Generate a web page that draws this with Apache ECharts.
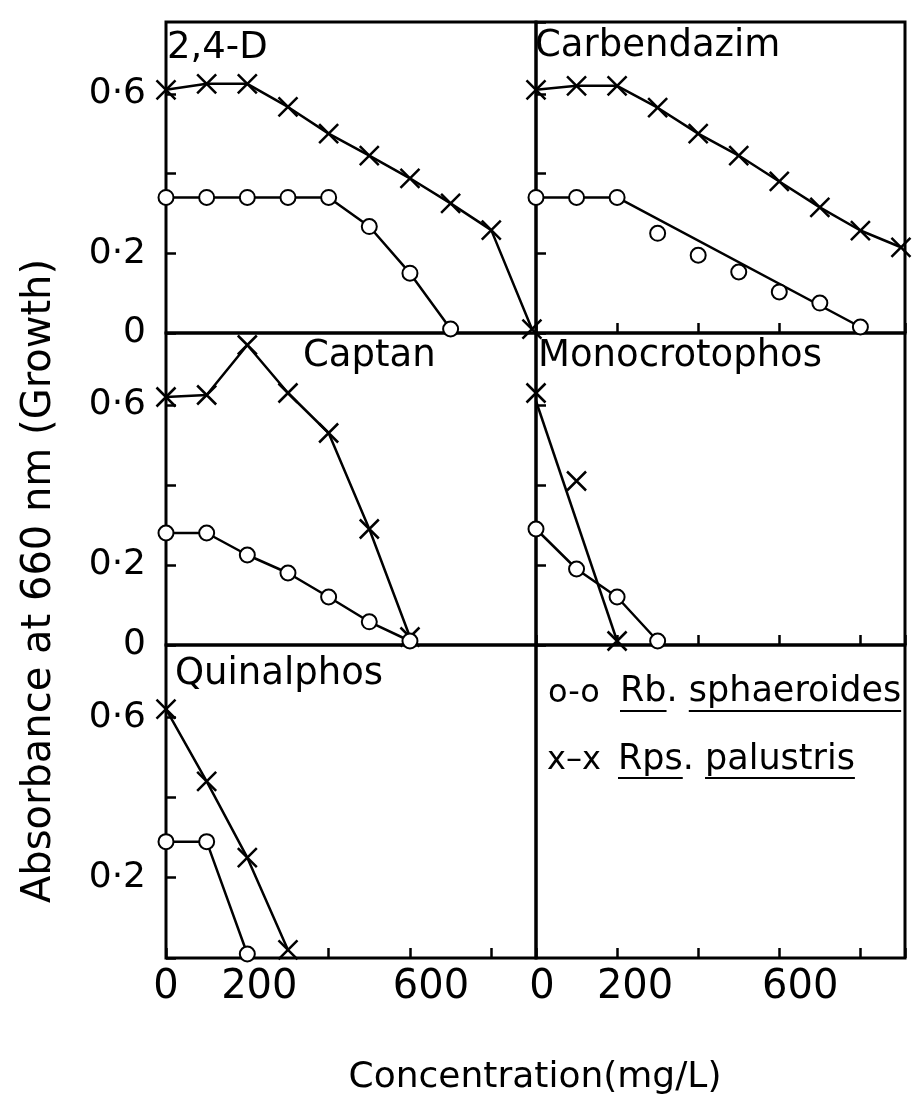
<!DOCTYPE html>
<html>
<head>
<meta charset="utf-8">
<script src="https://cdn.jsdelivr.net/npm/echarts@6/dist/echarts.min.js"></script>
<style>
html, body { margin: 0; padding: 0; background: #fff; }
#container { width: 912px; height: 1106px; }
</style>
</head>
<body>
<div id="container"></div>
<script>
// concentration steps (mg/L)
var conc = [0, 100, 200, 300, 400, 500, 600, 700, 800, 900];

// 2,4-D
var d24Rps = [0.61, 0.625, 0.625, 0.567, 0.50, 0.445, 0.388, 0.325, 0.258, 0.01];
var d24Rb = [0.34, 0.34, 0.34, 0.34, 0.34, 0.267, 0.15, 0.01];
// Carbendazim (Rb. drawn with a straight fitted line)
var carbRps = [0.61, 0.62, 0.62, 0.565, 0.50, 0.445, 0.38, 0.315, 0.257, 0.215];
var carbRb = [0.34, 0.34, 0.34, 0.25, 0.195, 0.153, 0.103, 0.075, 0.015];
var carbRbFitX = [0, 100, 200, 800];
var carbRbFitY = [0.34, 0.34, 0.34, 0.015];
// Captan
var captRps = [0.62, 0.625, 0.75, 0.63, 0.53, 0.29, 0.02];
var captRb = [0.28, 0.28, 0.225, 0.18, 0.12, 0.058, 0.01];
// Monocrotophos (Rps. drawn with a straight fitted line)
var monoRps = [0.63, 0.41, 0.01];
var monoRpsFitX = [0, 200];
var monoRpsFitY = [0.61, 0.01];
var monoRb = [0.29, 0.19, 0.12, 0.01];
// Quinalphos
var quinRps = [0.62, 0.44, 0.25, 0.02];
var quinRb = [0.29, 0.29, 0.01];

var panelNames = ['2,4-D', 'Carbendazim', 'Captan', 'Monocrotophos', 'Quinalphos', ''];
var xTickText = { 0: '{a|0}', 200: '{b|200}', 600: '{c|600}' };
var yTickText = { '0': '0', '0.2': '0·2', '0.6': '0·6' };

var FONT = 'DejaVu Sans';
var XMAX = 910;
var cols = [{ left: 166, width: 370 }, { left: 536, width: 369 }];
var rows = [{ top: 22, height: 311 }, { top: 333, height: 312 }, { top: 645, height: 313 }];
var titlePos = [[167, 30], [535, 28], [303, 338], [538, 338], [175, 656], [0, 0]];

function pts(ys, xs) {
    xs = xs || conc;
    return ys.map(function (y, i) { return [xs[i], y]; });
}

var crossPath = 'path://M0,0L10,10M10,0L0,10';
var circleStyle = { color: '#fff', borderColor: '#000', borderWidth: 2 };
var crossStyle = { color: 'transparent', borderColor: '#000', borderWidth: 2.5 };

var grids = [], xAxes = [], yAxes = [], titles = [];
for (var i = 0; i < 6; i++) {
    var c = i % 2, r = Math.floor(i / 2);
    grids.push({
        left: cols[c].left, width: cols[c].width,
        top: rows[r].top, height: rows[r].height,
        show: true, borderColor: '#000', borderWidth: 3, backgroundColor: 'transparent'
    });
    (function (c, r, i) {
        xAxes.push({
            gridIndex: i, type: 'value', min: 0, max: XMAX, interval: 200,
            axisLine: { show: false }, splitLine: { show: false },
            axisTick: { show: c === 1 || r === 2, inside: true, length: 10, lineStyle: { color: '#000', width: 2.5 } },
            axisLabel: {
                show: r === 2, margin: 10, color: '#000', fontSize: 40, fontFamily: FONT,
                showMaxLabel: true,
                formatter: function (v) { return xTickText[v] || ''; },
                rich: {
                    a: { fontSize: 40, fontFamily: FONT, color: '#000', padding: [0, 0, 0, c === 1 ? 12 : 0] },
                    b: { fontSize: 40, fontFamily: FONT, color: '#000', padding: [0, 0, 0, c === 1 ? 36 : 24] },
                    c: { fontSize: 40, fontFamily: FONT, color: '#000', padding: [0, 0, 0, 42] }
                }
            }
        });
        yAxes.push({
            gridIndex: i, type: 'value', min: 0, max: 0.78, interval: 0.2,
            axisLine: { show: false }, splitLine: { show: false },
            axisTick: { show: i !== 5, inside: true, length: 10, lineStyle: { color: '#000', width: 2.5 } },
            axisLabel: {
                show: c === 0, margin: 20, color: '#000', fontSize: 36, fontFamily: FONT,
                showMaxLabel: false,
                formatter: function (v) {
                    var k = String(Math.round(v * 10) / 10);
                    if (r === 2 && k === '0') return '';
                    return yTickText[k] || '';
                }
            }
        });
    })(c, r, i);
    if (panelNames[i]) {
        titles.push({
            text: panelNames[i], left: titlePos[i][0], top: titlePos[i][1], padding: 0,
            textStyle: { fontSize: 37, fontWeight: 'normal', color: '#000', fontFamily: FONT }
        });
    }
}

function curve(idx, data, isCross, showLine) {
    return {
        type: 'line', xAxisIndex: idx, yAxisIndex: idx, data: data,
        symbol: isCross ? crossPath : 'circle',
        symbolSize: isCross ? 19 : 15,
        itemStyle: isCross ? crossStyle : circleStyle,
        lineStyle: { color: '#000', width: showLine === false ? 0 : 2.5, opacity: showLine === false ? 0 : 1 },
        z: 3, silent: true
    };
}
function fit(idx, data) {
    return {
        type: 'line', xAxisIndex: idx, yAxisIndex: idx, data: data,
        showSymbol: false, symbol: 'none',
        lineStyle: { color: '#000', width: 2.5 }, z: 2, silent: true
    };
}

var series = [
    curve(0, pts(d24Rps), true), curve(0, pts(d24Rb), false),
    curve(1, pts(carbRps), true), curve(1, pts(carbRb), false, false), fit(1, pts(carbRbFitY, carbRbFitX)),
    curve(2, pts(captRps), true), curve(2, pts(captRb), false),
    curve(3, pts(monoRps), true, false), fit(3, pts(monoRpsFitY, monoRpsFitX)), curve(3, pts(monoRb), false),
    curve(4, pts(quinRps), true), curve(4, pts(quinRb), false)
];

// legend text with underlined genus / species names
var ctx = document.createElement('canvas').getContext('2d');
ctx.font = '35px "' + FONT + '"';
function tw(s) { return ctx.measureText(s).width; }
var legX = 620;
var leg1 = 'Rb. sphaeroides', leg2 = 'Rps. palustris';
var ul = function (x0, x1, y) {
    return { type: 'line', shape: { x1: x0, y1: y, x2: x1, y2: y }, style: { stroke: '#000', lineWidth: 2 }, z: 10 };
};

var graphics = [
    { type: 'text', x: 40, y: 581, rotation: Math.PI / 2, z: 10,
      style: { text: 'Absorbance at 660 nm (Growth)', fontSize: 40, fontFamily: FONT, fill: '#000', align: 'center', verticalAlign: 'middle' } },
    { type: 'text', x: 535, y: 1078, z: 10,
      style: { text: 'Concentration(mg/L)', fontSize: 36, fontFamily: FONT, fill: '#000', align: 'center', verticalAlign: 'middle' } },
    { type: 'text', x: 548, y: 694, z: 10,
      style: { text: 'o-o', fontSize: 32, fontFamily: FONT, fill: '#000', align: 'left', verticalAlign: 'middle' } },
    { type: 'text', x: legX, y: 692, z: 10,
      style: { text: leg1, fontSize: 35, fontFamily: FONT, fill: '#000', align: 'left', verticalAlign: 'middle' } },
    { type: 'text', x: 547, y: 761, z: 10,
      style: { text: 'x–x', fontSize: 32, fontFamily: FONT, fill: '#000', align: 'left', verticalAlign: 'middle' } },
    { type: 'text', x: legX - 2, y: 760, z: 10,
      style: { text: leg2, fontSize: 35, fontFamily: FONT, fill: '#000', align: 'left', verticalAlign: 'middle' } },
    ul(legX, legX + tw('Rb'), 711),
    ul(legX + tw('Rb. '), legX + tw(leg1), 711),
    ul(legX - 2, legX - 2 + tw('Rps'), 778),
    ul(legX - 2 + tw('Rps. '), legX - 2 + tw(leg2), 778)
];

var dom = document.getElementById('container');
var myChart = echarts.init(dom, null, { renderer: 'canvas' });
var option = {
    backgroundColor: '#fff',
    animation: false,
    title: titles,
    grid: grids,
    xAxis: xAxes,
    yAxis: yAxes,
    series: series,
    graphic: graphics
};
myChart.setOption(option, true);
</script>
</body>
</html>
